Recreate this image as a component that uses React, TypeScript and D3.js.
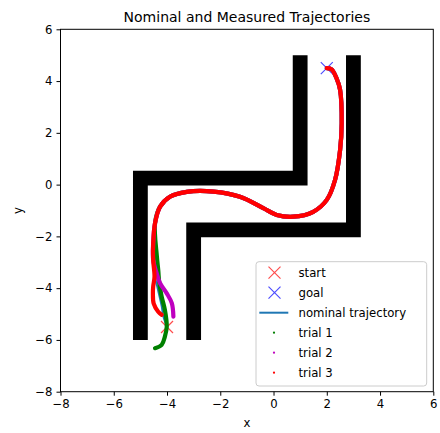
import React, { useRef, useEffect } from "react";
import * as d3 from "d3";

const WIDTH = 440;
const HEIGHT = 433;
const PLOT = { left: 60.5, right: 433.3, top: 29.3, bottom: 391.7 };
const FONT = "DejaVu Sans, sans-serif";

const X_DOMAIN: [number, number] = [-8, 6];
const Y_DOMAIN: [number, number] = [-8, 6];
const X_TICKS = [-8, -6, -4, -2, 0, 2, 4, 6];
const Y_TICKS = [-8, -6, -4, -2, 0, 2, 4, 6];

type Pt = [number, number];

// corridor walls (thick polylines)
const WALL_1: Pt[] = [[-5, -6], [-5, 0.25], [1, 0.25], [1, 5]];
const WALL_2: Pt[] = [[-3, -6], [-3, -1.75], [3, -1.75], [3, 5]];

const START: Pt = [-4, -5.5];
const GOAL: Pt = [2, 4.5];

const NOMINAL: Pt[] = [
  [-4, -5.5], [-4.14, -5.1], [-4.2, -4.71], [-4.34, -4.07], [-4.45, -3.56],
  [-4.52, -2.91], [-4.52, -2.27], [-4.45, -1.49], [-4.26, -0.85], [-3.89, -0.47],
  [-3.26, -0.28], [-2.26, -0.27], [-1.26, -0.47], [-0.385, -0.91], [0.12, -1.17],
  [0.74, -1.24], [1.49, -1.05], [2.0, -0.59], [2.31, 0.18], [2.5, 1.34],
  [2.56, 2.37], [2.5, 3.66], [2.37, 4.1], [2.18, 4.45], [2.0, 4.5],
];

// measured trials: where they split from the nominal path near the start
const TRIAL_1_HEAD: Pt[] = [
  [-4.45, -6.32], [-4.2, -6.19], [-4.08, -5.87], [-4.01, -5.49], [-4.08, -4.84],
  [-4.2, -4.33], [-4.29, -3.81], [-4.33, -3.3], [-4.38, -2.78],
];
const TRIAL_2_HEAD: Pt[] = [
  [-3.76, -5.1], [-3.82, -4.58], [-4.01, -4.2], [-4.26, -3.81], [-4.39, -3.42],
];
const TRIAL_3_HEAD: Pt[] = [
  [-4.2, -5.03], [-4.33, -4.91], [-4.5, -4.6], [-4.53, -4.2], [-4.52, -3.94],
  [-4.47, -3.56],
];

const TRIALS = [
  { label: "trial 1", color: "#008000", pts: [...TRIAL_1_HEAD, ...NOMINAL.slice(7)] },
  { label: "trial 2", color: "#bf00bf", pts: [...TRIAL_2_HEAD, ...NOMINAL.slice(5)] },
  { label: "trial 3", color: "#ff0000", pts: [...TRIAL_3_HEAD, ...NOMINAL.slice(5)] },
];

const xScale = d3.scaleLinear().domain(X_DOMAIN).range([PLOT.left, PLOT.right]);
const yScale = d3.scaleLinear().domain(Y_DOMAIN).range([PLOT.bottom, PLOT.top]);

const polyline = d3
  .line<Pt>()
  .x((d) => xScale(d[0]))
  .y((d) => yScale(d[1]));

const smooth = d3
  .line<Pt>()
  .x((d) => xScale(d[0]))
  .y((d) => yScale(d[1]))
  .curve(d3.curveCatmullRom.alpha(0.5));

function XMark({ cx, cy, color }: { cx: number; cy: number; color: string }) {
  const r = 6;
  return (
    <path
      d={`M${cx - r},${cy - r}L${cx + r},${cy + r}M${cx - r},${cy + r}L${cx + r},${cy - r}`}
      stroke={color}
      strokeOpacity={0.7}
      strokeWidth={1.2}
      fill="none"
    />
  );
}

export default function App() {
  const xAxisRef = useRef<SVGGElement>(null);
  const yAxisRef = useRef<SVGGElement>(null);

  useEffect(() => {
    const xg = d3.select(xAxisRef.current);
    xg.selectAll("*").remove();
    xg.call(
      d3.axisBottom(xScale).tickValues(X_TICKS).tickSize(4).tickPadding(4).tickSizeOuter(0)
    );
    xg.select(".domain").remove();
    xg.selectAll("line").attr("stroke", "#000").attr("stroke-width", 1);
    xg.selectAll("text").attr("font-size", 11.7).attr("font-family", FONT).attr("fill", "#000");

    const yg = d3.select(yAxisRef.current);
    yg.selectAll("*").remove();
    yg.call(
      d3.axisLeft(yScale).tickValues(Y_TICKS).tickSize(4).tickPadding(4).tickSizeOuter(0)
    );
    yg.select(".domain").remove();
    yg.selectAll("line").attr("stroke", "#000").attr("stroke-width", 1);
    yg.selectAll("text").attr("font-size", 11.7).attr("font-family", FONT).attr("fill", "#000");
  }, []);

  const legendX = 256;
  const legendY = 261.7;
  const rowY = (i: number) => legendY + 11 + i * 20;
  const markX = 274;
  const textX = 298.5;

  return (
    <svg
      width={WIDTH}
      height={HEIGHT}
      style={{ position: "absolute", left: 0, top: 0, background: "#fff" }}
    >
      <rect x={0} y={0} width={WIDTH} height={HEIGHT} fill="#fff" />

      {/* start / goal markers */}
      <XMark cx={xScale(START[0])} cy={yScale(START[1])} color="#ff0000" />
      <XMark cx={xScale(GOAL[0])} cy={yScale(GOAL[1])} color="#0000ff" />

      {/* walls */}
      {[WALL_1, WALL_2].map((w, i) => (
        <path
          key={i}
          d={polyline(w) || ""}
          stroke="#000"
          strokeWidth={14.8}
          strokeLinejoin="miter"
          strokeLinecap="butt"
          fill="none"
        />
      ))}

      {/* nominal trajectory */}
      <path d={smooth(NOMINAL) || ""} stroke="#1f77b4" strokeWidth={1.8} fill="none" />

      {/* measured trials */}
      {TRIALS.map((t) => (
        <path
          key={t.label}
          d={smooth(t.pts) || ""}
          stroke={t.color}
          strokeWidth={4.2}
          strokeLinecap="round"
          strokeLinejoin="round"
          fill="none"
        />
      ))}

      {/* frame */}
      <rect
        x={PLOT.left}
        y={PLOT.top}
        width={PLOT.right - PLOT.left}
        height={PLOT.bottom - PLOT.top}
        fill="none"
        stroke="#000"
        strokeWidth={1}
      />
      <g ref={xAxisRef} transform={`translate(0,${PLOT.bottom})`} />
      <g ref={yAxisRef} transform={`translate(${PLOT.left},0)`} />

      <text
        x={(PLOT.left + PLOT.right) / 2}
        y={22}
        textAnchor="middle"
        fontFamily={FONT}
        fontSize={14}
      >
        Nominal and Measured Trajectories
      </text>
      <text
        x={(PLOT.left + PLOT.right) / 2}
        y={427}
        textAnchor="middle"
        fontFamily={FONT}
        fontSize={11.7}
      >
        x
      </text>
      <text
        transform={`translate(22,${(PLOT.top + PLOT.bottom) / 2}) rotate(-90)`}
        textAnchor="middle"
        fontFamily={FONT}
        fontSize={11.7}
      >
        y
      </text>

      {/* legend */}
      <g fontFamily={FONT} fontSize={11.7}>
        <rect
          x={legendX}
          y={legendY}
          width={170.7}
          height={124.3}
          rx={3}
          fill="#fff"
          fillOpacity={0.8}
          stroke="#cccccc"
          strokeWidth={1}
        />
        <XMark cx={markX + 0.5} cy={rowY(0)} color="#ff0000" />
        <text x={textX} y={rowY(0)} dy="0.35em">start</text>
        <XMark cx={markX + 0.5} cy={rowY(1)} color="#0000ff" />
        <text x={textX} y={rowY(1)} dy="0.35em">goal</text>
        <line x1={259.3} x2={288.3} y1={rowY(2)} y2={rowY(2)} stroke="#1f77b4" strokeWidth={2} />
        <text x={textX} y={rowY(2)} dy="0.35em">nominal trajectory</text>
        {TRIALS.map((t, i) => (
          <g key={t.label}>
            <circle cx={markX} cy={rowY(3 + i)} r={1.1} fill={t.color} />
            <text x={textX} y={rowY(3 + i)} dy="0.35em">{t.label}</text>
          </g>
        ))}
      </g>
    </svg>
  );
}
